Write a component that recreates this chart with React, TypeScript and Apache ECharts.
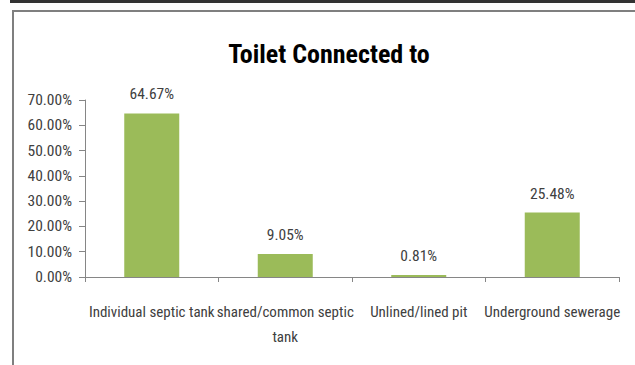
import React, { useEffect, useRef } from "react";
import * as echarts from "echarts";

const categories = [
  "Individual septic tank",
  "shared/common septic\ntank",
  "Unlined/lined pit",
  "Underground sewerage",
];
const values = [64.67, 9.05, 0.81, 25.48];
const titleText = "Toilet Connected to";

const FONT = "'Liberation Sans Narrow', 'Roboto Condensed', 'Liberation Sans', sans-serif";

export default function App() {
  const ref = useRef<HTMLDivElement>(null);
  useEffect(() => {
    if (!ref.current) return;
    const chart = echarts.init(ref.current, null, { renderer: "svg" });
    chart.setOption({
      animation: false,
      backgroundColor: "#ffffff",
      title: {
        text: titleText,
        left: 324,
        textAlign: "center",
        top: 36,
        textStyle: { fontFamily: FONT, fontSize: 26, fontWeight: "bold", color: "#000000" },
      },
      graphic: [
        { type: "line", shape: { x1: 10, y1: 1.5, x2: 635, y2: 1.5 }, style: { stroke: "#333333", lineWidth: 3 } },
        { type: "line", shape: { x1: 12, y1: 11, x2: 635, y2: 11 }, style: { stroke: "#7f7f7f", lineWidth: 2 } },
        { type: "line", shape: { x1: 13, y1: 10, x2: 13, y2: 365 }, style: { stroke: "#7f7f7f", lineWidth: 2 } },
      ],
      grid: { left: 85, right: 16, top: 100, bottom: 88, containLabel: false },
      xAxis: {
        type: "category",
        data: categories,
        axisLine: { lineStyle: { color: "#868686", width: 1 } },
        axisTick: { show: true, length: 5, lineStyle: { color: "#868686" } },
        axisLabel: {
          interval: 0,
          margin: 22,
          fontFamily: FONT,
          fontSize: 15,
          lineHeight: 25,
          color: "#404040",
        },
      },
      yAxis: {
        type: "value",
        min: 0,
        max: 70,
        interval: 10,
        splitLine: { show: false },
        axisLine: { show: true, lineStyle: { color: "#868686", width: 1 } },
        axisTick: { show: true, length: 6, lineStyle: { color: "#868686" } },
        axisLabel: {
          fontFamily: FONT,
          fontSize: 15.5,
          color: "#404040",
          margin: 13,
          formatter: (v: number) => v.toFixed(2) + "%",
        },
      },
      series: [
        {
          type: "bar",
          data: values,
          barWidth: 55,
          itemStyle: { color: "#9BBB59" },
          label: {
            show: true,
            position: "top",
            distance: 11,
            fontFamily: FONT,
            fontSize: 15.5,
            color: "#404040",
            formatter: (p: any) => p.value.toFixed(2) + "%",
          },
        },
      ],
    });
    return () => chart.dispose();
  }, []);
  return (
    <div
      ref={ref}
      style={{ position: "fixed", left: 0, top: 0, width: 635, height: 365 }}
    />
  );
}
